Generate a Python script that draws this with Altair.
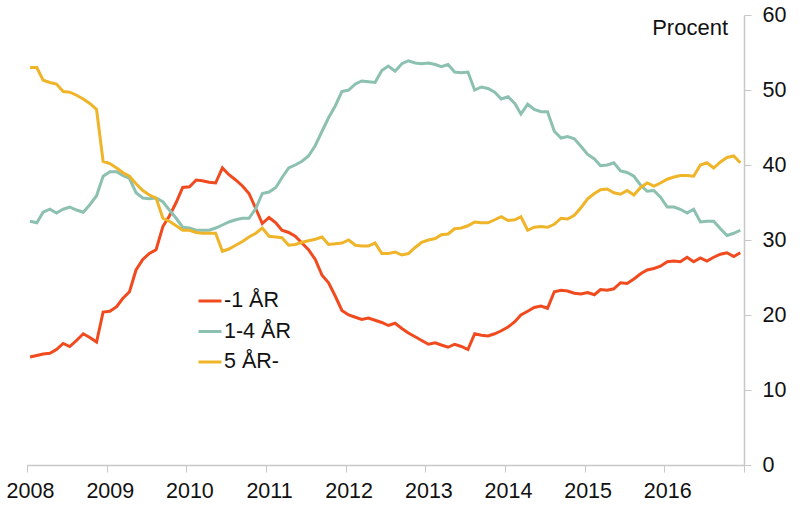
import altair as alt
import pandas as pd

# Monthly observations, Jan 2008 - Dec 2016 (values in percent)
series_names = ["-1 ÅR", "1-4 ÅR", "5 ÅR-"]
series_colors = ["#F04A1E", "#8CC0B0", "#F0B429"]

short_term = [
    14.4, 14.6, 14.8, 14.9, 15.4, 16.2, 15.8, 16.6, 17.5, 17.0, 16.4, 20.4,
    20.5, 21.1, 22.2, 23.1, 26.0, 27.4, 28.2, 28.7, 31.8, 33.2, 35.0, 37.0,
    37.1, 38.0, 37.9, 37.7, 37.6, 39.6, 38.7, 38.0, 37.2, 36.2, 34.2, 32.2,
    33.0, 32.3, 31.3, 31.0, 30.5, 29.6, 28.7, 27.4, 25.3, 24.3, 22.5, 20.6,
    20.0, 19.7, 19.4, 19.6, 19.3, 19.0, 18.6, 18.9, 18.2, 17.6, 17.1, 16.6,
    16.1, 16.3, 16.0, 15.7, 16.1, 15.8, 15.4, 17.5, 17.3, 17.2, 17.5, 17.9,
    18.4, 19.1, 20.0, 20.5, 21.0, 21.2, 20.9, 23.1, 23.3, 23.2, 22.9, 22.8,
    23.0, 22.7, 23.4, 23.3, 23.5, 24.3, 24.2, 24.8, 25.5, 26.0, 26.2, 26.5,
    27.1, 27.2, 27.1, 27.7, 27.1, 27.6, 27.2, 27.7, 28.1, 28.3, 27.8, 28.3,
]

mid_term = [
    32.5, 32.3, 33.7, 34.1, 33.6, 34.1, 34.4, 34.0, 33.7, 34.7, 35.9, 38.5,
    39.1, 39.1, 38.6, 38.2, 36.3, 35.6, 35.5, 35.6, 35.1, 34.0, 32.9, 31.7,
    31.6, 31.3, 31.3, 31.3, 31.6, 32.0, 32.4, 32.7, 32.9, 32.9, 34.2, 36.2,
    36.4, 37.0, 38.3, 39.6, 40.0, 40.5, 41.2, 42.6, 44.5, 46.3, 47.9, 49.8,
    50.0, 50.8, 51.2, 51.1, 51.0, 52.6, 53.2, 52.5, 53.5, 53.9, 53.6, 53.5,
    53.6, 53.4, 53.1, 53.4, 52.4, 52.3, 52.4, 50.0, 50.4, 50.2, 49.7, 48.8,
    49.1, 48.2, 46.8, 48.1, 47.4, 47.1, 47.1, 44.5, 43.6, 43.8, 43.5, 42.5,
    41.4, 40.8, 39.9, 40.0, 40.3, 39.2, 39.0, 38.5, 37.3, 36.5, 36.6, 35.7,
    34.4, 34.4, 34.1, 33.6, 34.1, 32.4, 32.5, 32.5, 31.5, 30.6, 30.9, 31.3,
]

long_term = [
    53.0, 53.0, 51.3, 51.0, 50.8, 49.8, 49.7, 49.3, 48.8, 48.2, 47.4, 40.5,
    40.2, 39.6, 39.0, 38.5, 37.5, 36.6, 36.0, 35.6, 32.9, 32.5, 31.9, 31.3,
    31.3, 31.0, 30.9, 30.9, 30.9, 28.5, 28.8, 29.3, 29.8, 30.4, 30.9, 31.6,
    30.5, 30.4, 30.3, 29.3, 29.4, 29.7, 29.9, 30.1, 30.4, 29.4, 29.5, 29.6,
    30.0, 29.3, 29.2, 29.2, 29.6, 28.2, 28.2, 28.4, 28.0, 28.2, 29.0, 29.7,
    30.0, 30.2, 30.7, 30.8, 31.5, 31.6, 31.9, 32.4, 32.3, 32.3, 32.7, 33.1,
    32.6, 32.7, 33.1, 31.3, 31.7, 31.8, 31.7, 32.1, 32.9, 32.8, 33.3, 34.3,
    35.5, 36.2, 36.7, 36.8, 36.3, 36.1, 36.6, 36.0, 37.0, 37.6, 37.2, 37.6,
    38.1, 38.4, 38.6, 38.6, 38.5, 40.0, 40.3, 39.6, 40.4, 41.0, 41.2, 40.3,
]

year_ticks = list(range(2008, 2018))
y_ticks = [0, 10, 20, 30, 40, 50, 60]

# Mid-month dates for each observation
dates = pd.date_range("2008-01-01", periods=len(short_term), freq="MS") + pd.Timedelta(days=14)

frames = []
for name, vals in zip(series_names, [short_term, mid_term, long_term]):
    frames.append(pd.DataFrame({"date": dates, "value": vals, "serie": name}))
df = pd.concat(frames, ignore_index=True)

FONT = "Liberation Sans"
TEXT_SIZE = 21.5

lines = alt.Chart(df).mark_line(strokeWidth=3).encode(
    x=alt.X(
        "date:T",
        scale=alt.Scale(domain=[alt.DateTime(year=2008, month=1, date=1),
                                alt.DateTime(year=2017, month=1, date=1)]),
        axis=alt.Axis(
            title=None,
            values=[alt.DateTime(year=y, month=1, date=1) for y in year_ticks],
            labelExpr="year(datum.value) < 2017 ? timeFormat(datum.value, '%Y') : ''",
            labelFlush=False,
            labelOverlap=False,
            labelOffset=3,
            labelPadding=8,
            tickSize=7,
            grid=False,
        ),
    ),
    y=alt.Y(
        "value:Q",
        scale=alt.Scale(domain=[0, 60], nice=False, zero=False),
        axis=alt.Axis(
            title=None,
            orient="right",
            values=y_ticks,
            tickSize=7,
            labelPadding=11,
            grid=False,
        ),
    ),
    color=alt.Color(
        "serie:N",
        scale=alt.Scale(domain=series_names, range=series_colors),
        sort=series_names,
        legend=alt.Legend(
            title=None,
            orient="none",
            legendX=170,
            legendY=273,
            symbolType="stroke",
            symbolSize=529,
            symbolStrokeWidth=3,
            labelFontSize=TEXT_SIZE,
            labelFont=FONT,
            labelColor="#111111",
            labelOffset=1,
            rowPadding=6.5,
            padding=0,
            labelExpr="datum.label == '-1 ÅR' ? '\u00a0-1 ÅR' : datum.label",
        ),
    ),
    order=alt.Order("date:T"),
)

unit_label = alt.Chart(pd.DataFrame({"t": ["Procent"]})).mark_text(
    align="right", baseline="alphabetic", font=FONT, fontSize=22, color="#111111"
).encode(
    text="t:N",
    x=alt.value(701),
    y=alt.value(20),
)

chart = alt.layer(lines, unit_label).properties(
    width=717,
    height=450,
    autosize=alt.AutoSizeParams(type="none"),
    padding={"left": 27, "top": 15, "right": 56, "bottom": 57},
).configure_view(
    stroke=None
).configure_axis(
    domainColor="#C8C8C8",
    tickColor="#C8C8C8",
    domainWidth=1.5,
    labelFont=FONT,
    labelFontSize=TEXT_SIZE,
    labelColor="#111111",
)

chart.save("out.html", embed_options={"renderer": "svg", "actions": False})
